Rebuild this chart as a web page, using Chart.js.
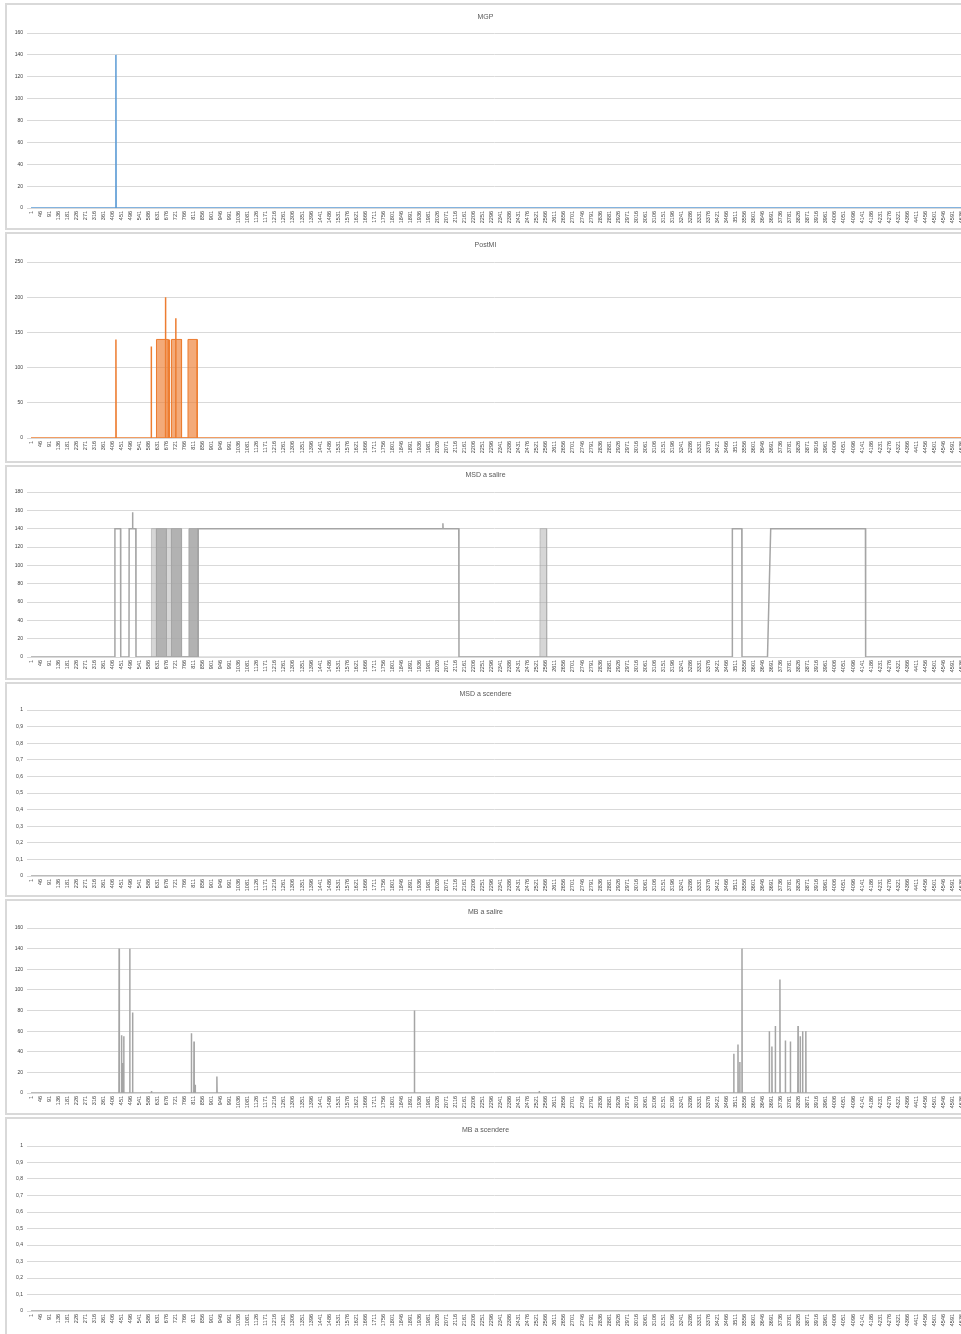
<!DOCTYPE html>
<html>
<head>
<meta charset="utf-8">
<script src="https://cdn.jsdelivr.net/npm/chart.js@4.4.0/dist/chart.umd.min.js"></script>
<style>
  html, body { margin:0; padding:0; background:#fff; width:961px; height:1334px; overflow:hidden; }
  .panel { position:absolute; left:5px; width:968px; border:2px solid #D9D9D9; box-sizing:border-box; background:#fff; }
  .panel canvas { position:absolute; left:0; top:0; }
</style>
</head>
<body>
<script>
// ---- data ----
const titles = ['MGP', 'PostMI', 'MSD a salire', 'MSD a scendere', 'MB a salire', 'MB a scendere'];
const yMax = [160, 250, 180, 1, 160, 1];
const yStep = [20, 50, 20, 0.1, 20, 0.1];

const xTickLabels = [1,46,91,136,181,226,271,316,361,406,451,496,541,586,631,676,721,766,811,856,901,946,991,1036,1081,1126,1171,1216,1261,1306,1351,1396,1441,1486,1531,1576,1621,1666,1711,1756,1801,1846,1891,1936,1981,2026,2071,2116,2161,2206,2251,2296,2341,2386,2431,2476,2521,2566,2611,2656,2701,2746,2791,2836,2881,2926,2971,3016,3061,3106,3151,3196,3241,3286,3331,3376,3421,3466,3511,3556,3601,3646,3691,3736,3781,3826,3871,3916,3961,4006,4051,4096,4141,4186,4231,4276,4321,4366,4411,4456,4501,4546,4591,4636];

const mgpX = [1, 423, 424, 425, 4640];
const mgpY = [0, 0, 140, 0, 0];

const postMiX = [1, 423, 424, 425, 599, 600, 601, 670, 671, 672, 689, 690, 691, 721, 722, 723, 4640];
const postMiY = [0, 0, 140, 0, 0, 130, 0, 0, 200, 0, 0, 140, 0, 0, 170, 0, 0];
const postMiBandX = [625, 626, 684, 685, 700, 701, 750, 751, 782, 783, 828, 829];
const postMiBandY = [0, 140, 140, 0, 0, 140, 140, 0, 0, 140, 140, 0];

const msdSalireX = [1, 418, 419, 447, 448, 489, 490, 506, 507, 508, 523, 524, 832, 833, 2052, 2053, 2054, 2132, 2133, 3494, 3495, 3542, 3543, 3670, 3686, 4158, 4159, 4640];
const msdSalireY = [0, 0, 140, 140, 0, 0, 140, 140, 158, 140, 140, 0, 0, 140, 140, 146, 140, 140, 0, 0, 140, 140, 0, 0, 140, 140, 0, 0];
const msdSalireBandX = [625, 626, 675, 676, 700, 701, 750, 751, 787, 788, 833, 834];
const msdSalireBandY = [0, 140, 140, 0, 0, 140, 140, 0, 0, 140, 140, 0];
const msdSalireLightX = [600, 601, 625, 626, 675, 676, 700, 701, 2536, 2537, 2569, 2570];
const msdSalireLightY = [0, 140, 140, 0, 0, 140, 140, 0, 0, 140, 140, 0];

const msdScendereX = [1, 4640];
const msdScendereY = [0, 0];

const mbSalireX = [1, 439, 440, 441, 451, 452, 453, 457, 458, 459, 462, 463, 464, 492, 493, 494, 506, 507, 508, 600, 601, 602, 799, 800, 801, 812, 813, 814, 818, 819, 820, 926, 927, 928, 1910, 1911, 1912, 2532, 2533, 2534, 3501, 3502, 3503, 3522, 3523, 3524, 3531, 3532, 3533, 3542, 3543, 3544, 3678, 3679, 3680, 3691, 3692, 3693, 3708, 3709, 3710, 3731, 3732, 3733, 3758, 3759, 3760, 3783, 3784, 3785, 3821, 3822, 3823, 3832, 3833, 3834, 3844, 3845, 3846, 3860, 3861, 3862, 4640];
const mbSalireY = [0, 0, 140, 0, 0, 56, 0, 0, 29, 0, 0, 55, 0, 0, 140, 0, 0, 78, 0, 0, 2, 0, 0, 58, 0, 0, 50, 0, 0, 8, 0, 0, 16, 0, 0, 80, 0, 0, 2, 0, 0, 38, 0, 0, 47, 0, 0, 30, 0, 0, 140, 0, 0, 60, 0, 0, 45, 0, 0, 65, 0, 0, 110, 0, 0, 51, 0, 0, 50, 0, 0, 65, 0, 0, 55, 0, 0, 60, 0, 0, 60, 0, 0];

const mbScendereX = [1, 4640];
const mbScendereY = [0, 0];

// ---- layout (page pixels) ----
const panelLayout = [
  {top:3,    h:227, titleY:17,   plotTop:33,   plotBottom:208},
  {top:232,  h:231, titleY:245,  plotTop:262,  plotBottom:438},
  {top:465,  h:215, titleY:475,  plotTop:492,  plotBottom:657},
  {top:682,  h:215, titleY:694,  plotTop:710,  plotBottom:876},
  {top:899,  h:216, titleY:912,  plotTop:928,  plotBottom:1093},
  {top:1117, h:220, titleY:1130, plotTop:1146, plotBottom:1311}
];

const BLUE = '#5B9BD5', ORANGE = '#ED7D31', GRAY = '#A5A5A5';

function pts(xs, ys) { return xs.map((x, i) => ({x: x, y: ys[i]})); }
function lineDs(xs, ys, color) {
  return {data: pts(xs, ys), borderColor: color, borderWidth: 1.5, pointRadius: 0, fill: false, tension: 0, order: 0};
}
function bandDs(xs, ys, fillColor, lineColor, ord) {
  return {data: pts(xs, ys), borderColor: lineColor, backgroundColor: fillColor, borderWidth: 1, pointRadius: 0, fill: 'origin', tension: 0, order: ord};
}

const panelDatasets = [
  [lineDs(mgpX, mgpY, BLUE)],
  [lineDs(postMiX, postMiY, ORANGE), bandDs(postMiBandX, postMiBandY, 'rgba(237,125,49,0.65)', ORANGE, 1)],
  [lineDs(msdSalireX, msdSalireY, GRAY),
   bandDs(msdSalireBandX, msdSalireBandY, 'rgba(165,165,165,0.85)', GRAY, 1),
   bandDs(msdSalireLightX, msdSalireLightY, 'rgba(165,165,165,0.45)', 'rgba(165,165,165,0.6)', 2)],
  [lineDs(msdScendereX, msdScendereY, GRAY)],
  [lineDs(mbSalireX, mbSalireY, GRAY)],
  [lineDs(mbScendereX, mbScendereY, GRAY)]
];

const TXT = '#595959';
const TICK = '#404040';
const FONT = "'Liberation Sans', Arial, sans-serif";
const CANVAS_W = 964;

panelLayout.forEach((p, i) => {
  const div = document.createElement('div');
  div.className = 'panel';
  div.style.top = p.top + 'px';
  div.style.height = p.h + 'px';
  document.body.appendChild(div);
  const cv = document.createElement('canvas');
  const ch = p.h - 4;
  cv.width = CANVAS_W; cv.height = ch;
  cv.style.width = CANVAS_W + 'px'; cv.style.height = ch + 'px';
  div.appendChild(cv);
  const cTop = p.top + 2;
  const titleC = p.titleY - cTop;
  const plotTopC = p.plotTop - cTop;
  const plotBottomC = p.plotBottom - cTop;
  const titleSize = 7;
  const lh = titleSize * 1.2;
  const padTop = titleC - lh / 2;
  const padBottom = plotTopC - padTop - lh;
  const xAxisH = ch - plotBottomC;

  new Chart(cv, {
    type: 'line',
    data: { datasets: panelDatasets[i] },
    options: {
      responsive: false,
      animation: false,
      events: [],
      layout: { padding: { top: 0, left: 0, right: 7, bottom: 0 } },
      plugins: {
        legend: { display: false },
        tooltip: { enabled: false },
        title: {
          display: true, text: titles[i], color: TXT,
          font: { size: titleSize, family: FONT, weight: 'normal' },
          padding: { top: padTop, bottom: padBottom }
        }
      },
      scales: {
        x: {
          type: 'linear', min: -19, max: 4640,
          afterBuildTicks: s => { s.ticks = xTickLabels.map(v => ({ value: v })); },
          afterFit: s => { s.height = xAxisH; },
          grid: { display: false, drawTicks: false },
          border: { display: true, color: '#D9D9D9', width: 1 },
          ticks: {
            autoSkip: false, maxRotation: 90, minRotation: 90, padding: 3,
            font: { size: 5.5, family: FONT }, color: TICK,
            callback: v => String(v)
          }
        },
        y: {
          min: 0, max: yMax[i],
          afterFit: s => { s.width = 20; },
          grid: { color: '#D9D9D9', lineWidth: 1, drawTicks: false },
          border: { display: false },
          ticks: {
            stepSize: yStep[i], padding: 4,
            font: { size: 5, family: FONT }, color: TICK,
            callback: v => String(Math.round(v * 10) / 10).replace('.', ',')
          }
        }
      }
    }
  });
});
</script>
</body>
</html>
